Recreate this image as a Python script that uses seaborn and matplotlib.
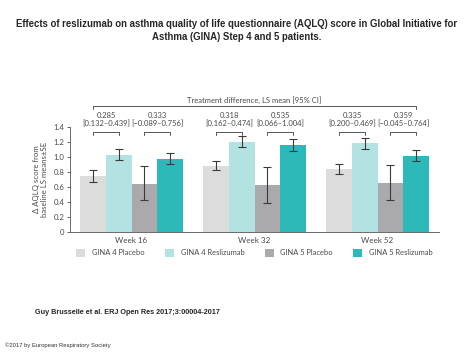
import numpy as np
import pandas as pd
import matplotlib
matplotlib.use("Agg")
import matplotlib.pyplot as plt
import seaborn as sns

# data
weeks = ["Week 16", "Week 32", "Week 52"]
groups = ["GINA 4 Placebo", "GINA 4 Reslizumab", "GINA 5 Placebo", "GINA 5 Reslizumab"]
colors = ["#dcdcdd", "#b2e2e2", "#aaaaac", "#2db8ba"]

means = {
    "GINA 4 Placebo":    [0.745, 0.88, 0.835],
    "GINA 4 Reslizumab": [1.02, 1.195, 1.18],
    "GINA 5 Placebo":    [0.64, 0.62, 0.655],
    "GINA 5 Reslizumab": [0.975, 1.155, 1.01],
}
err_low = {
    "GINA 4 Placebo":    [0.67, 0.82, 0.77],
    "GINA 4 Reslizumab": [0.96, 1.13, 1.10],
    "GINA 5 Placebo":    [0.42, 0.38, 0.43],
    "GINA 5 Reslizumab": [0.91, 1.08, 0.945],
}
err_high = {
    "GINA 4 Placebo":    [0.82, 0.95, 0.90],
    "GINA 4 Reslizumab": [1.11, 1.27, 1.245],
    "GINA 5 Placebo":    [0.875, 0.86, 0.885],
    "GINA 5 Reslizumab": [1.05, 1.23, 1.085],
}

# treatment differences (GINA 4 pair, GINA 5 pair) per week
diff_est = [["0.285", "0.333"], ["0.318", "0.535"], ["0.335", "0.359"]]
diff_ci = [["[0.132–0.439]", "[−0.089–0.756]"],
           ["[0.162–0.474]", "[0.066–1.004]"],
           ["[0.200–0.469]", "[−0.045–0.764]"]]

rows = []
for g in groups:
    for i, w in enumerate(weeks):
        rows.append({"week": w, "group": g, "value": means[g][i]})
df = pd.DataFrame(rows)

sns.set_style("ticks")
plt.rcParams["font.family"] = ["Lato", "DejaVu Sans"]
txt_col = "#4a4a4a"

fig = plt.figure(figsize=(4.74, 3.55), dpi=100)
ax = fig.add_axes([0.1477, 0.347, 0.7785, 0.296])

sns.barplot(data=df, x="week", y="value", hue="group", order=weeks, hue_order=groups,
            palette=colors, width=0.83, errorbar=None, saturation=1, ax=ax, legend=True,
            linewidth=0)

# error bars at the bar centres
centers = {}
for g, cont in zip(groups, ax.containers):
    xs = [b.get_x() + b.get_width() / 2 for b in cont]
    centers[g] = xs
    m = np.array(means[g])
    lo = m - np.array(err_low[g])
    hi = np.array(err_high[g]) - m
    ax.errorbar(xs, m, yerr=[lo, hi], fmt="none", ecolor="#3a3a3a",
                elinewidth=0.8, capsize=2.6, capthick=0.8, zorder=5)

ax.set_xlim(-0.5, 2.5)
ax.set_ylim(0, 1.4)
ax.set_yticks(np.arange(0, 1.41, 0.2))
ax.set_yticklabels(["0", "0.2", "0.4", "0.6", "0.8", "1.0", "1.2", "1.4"])
ax.set_xlabel("")
ax.set_ylabel("Δ AQLQ score from\nbaseline LS means±SE", fontsize=5.6, color=txt_col,
              labelpad=4, linespacing=1.1)
ax.tick_params(axis="y", labelsize=5.6, colors=txt_col, length=2.5, width=0.6, pad=1.5)
ax.tick_params(axis="x", labelsize=5.8, colors=txt_col, length=0, pad=4)
for s in ["top", "right"]:
    ax.spines[s].set_visible(False)
for s in ["left", "bottom"]:
    ax.spines[s].set_color("#6a6a6a")
    ax.spines[s].set_linewidth(0.7)

# pair brackets and difference labels
line_kw = dict(color="#555555", lw=0.7, clip_on=False)
tick_h = 0.045
for i in range(len(weeks)):
    for k, (a, b) in enumerate([("GINA 4 Placebo", "GINA 4 Reslizumab"),
                                ("GINA 5 Placebo", "GINA 5 Reslizumab")]):
        x0, x1 = centers[a][i], centers[b][i]
        yb = 1.333
        ax.plot([x0, x0, x1, x1], [yb - tick_h, yb, yb, yb - tick_h], **line_kw)
        xm = (x0 + x1) / 2
        ax.text(xm, 1.436, diff_ci[i][k], ha="center", va="center", fontsize=5.5,
                color=txt_col, clip_on=False)
        ax.text(xm, 1.545, diff_est[i][k], ha="center", va="center", fontsize=5.5,
                color=txt_col, clip_on=False)

xa = centers["GINA 4 Placebo"][0]
xb = centers["GINA 5 Reslizumab"][-1]
yt = 1.676
ax.plot([xa, xa, xb, xb], [yt - tick_h, yt, yt, yt - tick_h], **line_kw)
ax.text(1.0, 1.758, "Treatment difference, LS mean [95% CI]", ha="center", va="center",
        fontsize=5.5, color=txt_col, clip_on=False)

# legend below the axes
handles, labels = ax.get_legend_handles_labels()
ax.legend(handles, labels, loc="center", bbox_to_anchor=(0.5, -0.2), ncol=4,
          frameon=False, fontsize=5.4, handlelength=1.2, handleheight=1.2,
          handletextpad=0.9, columnspacing=2.7, labelcolor=txt_col)

fig.text(0.5, 1 - 24 / 355, "Effects of reslizumab on asthma quality of life questionnaire (AQLQ) score in Global Initiative for",
         ha="center", va="center", fontsize=6.9, fontweight="bold", family="Liberation Sans")
fig.text(0.5, 1 - 37 / 355, "Asthma (GINA) Step 4 and 5 patients.",
         ha="center", va="center", fontsize=6.9, fontweight="bold", family="Liberation Sans")
fig.text(35 / 474, 1 - 313 / 355, "Guy Brusselle et al. ERJ Open Res 2017;3:00004-2017",
         ha="left", va="center", fontsize=5.2, fontweight="bold", family="Liberation Sans")
fig.text(5 / 474, 1 - 345 / 355, "©2017 by European Respiratory Society",
         ha="left", va="center", fontsize=4.2, family="Liberation Sans", color="#333333")

fig.savefig("out.png", dpi=100)
